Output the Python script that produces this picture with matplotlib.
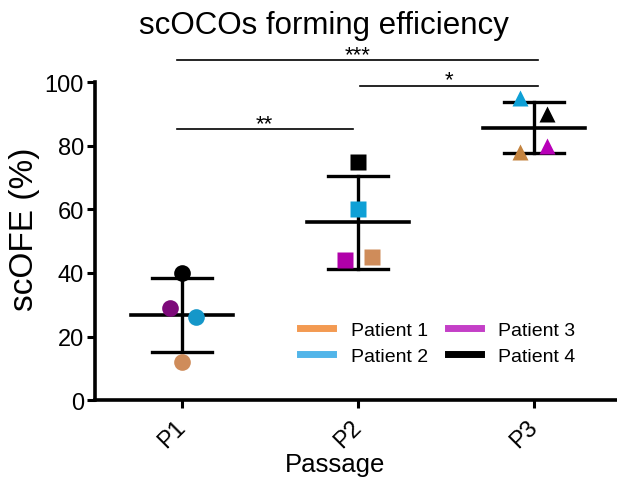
import numpy as np
import matplotlib
matplotlib.use("Agg")
from matplotlib import pyplot as plt
from matplotlib.lines import Line2D

plt.rcParams['font.family'] = ['Liberation Sans', 'DejaVu Sans']

passages = ['P1', 'P2', 'P3']
patients = ['Patient 1', 'Patient 2', 'Patient 3', 'Patient 4']

# scOFE (%) per patient at each passage
p1_vals = [12, 26, 29, 40]
p2_vals = [45, 60, 44, 75]
p3_vals = [78, 95, 80, 90]

# significance brackets: (from passage, to passage, label)
sig_pairs = [(0, 1, '**'), (1, 2, '*'), (0, 2, '***')]
sig_heights = [85.2, 98.9, 107.0]

legend_colors = ['#f39a52', '#52b5e9', '#c43fc7', '#000000']
marker_colors = [
    ['#cf8c5a', '#1597c9', '#7d0a7a', '#000000'],
    ['#cf8c5a', '#0ea0d6', '#b000a9', '#000000'],
    ['#c48440', '#0ea0d6', '#b800b8', '#000000'],
]
markers = ['o', 's', '^']
offsets = [
    [0.0, 0.08, -0.07, 0.0],
    [0.08, 0.0, -0.075, 0.0],
    [-0.08, -0.08, 0.07, 0.07],
]

fig = plt.figure(figsize=(6.17, 4.81), dpi=100)
ax = fig.add_axes([0.154, 0.166, 0.846, 0.661])

xpos = np.arange(1, len(passages) + 1)
all_vals = [p1_vals, p2_vals, p3_vals]

for i, vals in enumerate(all_vals):
    x = xpos[i]
    vals = np.array(vals, dtype=float)
    mean = vals.mean()
    sd = vals.std(ddof=1)
    # mean bar, SD whisker and caps
    ax.plot([x - 0.29, x + 0.29], [mean, mean], color='black', lw=2.6, zorder=3)
    ax.plot([x, x], [mean - sd, mean + sd], color='black', lw=2.4, zorder=3)
    for y in (mean - sd, mean + sd):
        ax.plot([x - 0.17, x + 0.17], [y, y], color='black', lw=2.4, zorder=3)
    for j, v in enumerate(vals):
        ax.plot(x + offsets[i][j], v, marker=markers[i], ms=12, color=marker_colors[i][j],
                mec='none', ls='none', zorder=4)

# significance brackets
for (a, b, lab), h in zip(sig_pairs, sig_heights):
    x0 = xpos[a] - 0.03
    x1 = xpos[b] + 0.02
    if a == 0 and b == 1:
        x1 = xpos[b] - 0.03
    if a == 1:
        x0 = xpos[a] + 0.01
    ax.plot([x0, x1], [h, h], color='black', lw=1.2, clip_on=False)
    ax.text((x0 + x1) / 2, h - 1.5, lab, ha='center', va='bottom', fontsize=16)

ax.set_xlim(0.506, 3.47)
ax.set_ylim(0, 100)
ax.set_yticks([0, 20, 40, 60, 80, 100])
ax.set_xticks(xpos)
ax.set_xticklabels(passages, rotation=45, ha='right', va='center', rotation_mode='anchor')
ax.tick_params(axis='both', labelsize=17, width=2.2, length=6, direction='out')
ax.tick_params(axis='x', pad=11)
ax.tick_params(axis='y', pad=2)

for side in ('top', 'right'):
    ax.spines[side].set_visible(False)
for side in ('left', 'bottom'):
    ax.spines[side].set_linewidth(2.6)

ax.set_ylabel('scOFE (%)', fontsize=24)
ax.yaxis.set_label_coords(-0.105, 0.54)
ax.set_xlabel('Passage', fontsize=18.5)
ax.xaxis.set_label_coords(0.46, -0.163)
fig.text(0.525, 0.945, 'scOCOs forming efficiency', ha='center', va='center', fontsize=22.5)

handles = [Line2D([0], [0], color=c, lw=5) for c in legend_colors]
ax.legend(handles, patients, ncol=2, frameon=False, fontsize=14,
          loc='lower left', bbox_to_anchor=(0.36, 0.055), handlelength=1.7,
          handletextpad=0.9, columnspacing=1.0, labelspacing=0.45)

fig.savefig('out.png', dpi=100)
